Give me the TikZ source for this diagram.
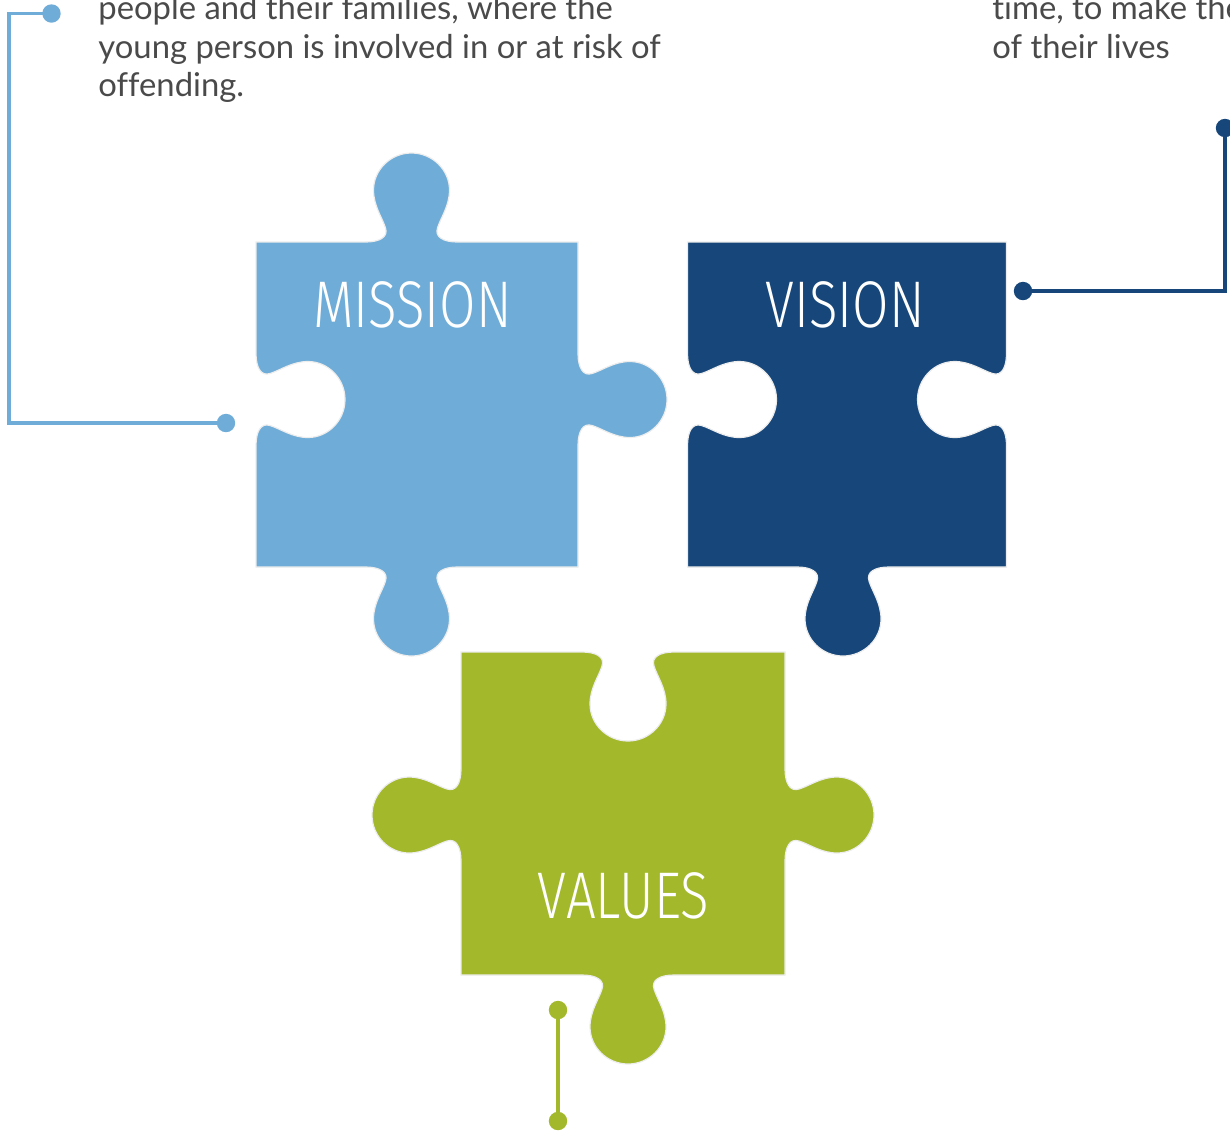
\documentclass[tikz,border=0pt]{standalone}
\usepackage{fontspec}
\usepackage{graphicx}
\setmainfont{Lato}[Ligatures={NoCommon}]
\newfontfamily\labfont{Fira Sans Light}
\definecolor{misblue}{HTML}{6FADD8}
\definecolor{visblue}{HTML}{17477A}
\definecolor{valgreen}{HTML}{A3B82B}
\definecolor{bodygray}{HTML}{4A4A4A}
\definecolor{edgegray}{HTML}{EDEDED}
% one tab (#3=1) or blank (#3=-1) on an edge whose middle is #1, turned by #2
\newcommand\tabshape[3]{%
 {[shift={#1},rotate=#2] -- (-46,0)
   .. controls (-32,0) and (-23,{-5*#3}) .. (-26,{-14*#3})
   .. controls (-29,{-24*#3}) and (-38,{-36*#3}) .. (-38,{-52*#3})
   .. controls (-38,{-72*#3}) and (-21,{-89*#3}) .. (0,{-89*#3})
   .. controls (21,{-89*#3}) and (38,{-72*#3}) .. (38,{-52*#3})
   .. controls (38,{-36*#3}) and (29,{-24*#3}) .. (26,{-14*#3})
   .. controls (23,{-5*#3}) and (32,0) .. (46,0)}}
\begin{document}
\begin{tikzpicture}[x=0.5pt,y=-0.5pt,
  piece/.style={draw=edgegray,line width=0.6pt},
  conn/.style={line width=1.7pt},
  bodytxt/.style={text=bodygray,font=\fontsize{16.4pt}{19.5pt}\selectfont,inner sep=0pt,anchor=base west},
  labtxt/.style={text=white,font=\labfont\fontsize{33pt}{36pt}\selectfont,inner sep=0pt,anchor=base}]
\useasboundingbox (0,0) rectangle (1230,1131);
% ---------- MISSION ----------
\def\pcx{417}\def\pcy{404.5}\def\phx{161}\def\phy{162.5}
\path[piece,fill=misblue] ({\pcx-\phx},{\pcy-\phy})
  \tabshape{({\pcx-5.5},{\pcy-\phy})}{0}{1} -- ({\pcx+\phx},{\pcy-\phy})
  \tabshape{({\pcx+\phx},{\pcy-5})}{-90}{1} -- ({\pcx+\phx},{\pcy+\phy})
  \tabshape{({\pcx-5.5},{\pcy+\phy})}{180}{1} -- ({\pcx-\phx},{\pcy+\phy})
  \tabshape{({\pcx-\phx},{\pcy-5})}{90}{-1} -- cycle;
% ---------- VISION ----------
\def\pcx{847}\def\pcy{404.5}\def\phx{159.5}\def\phy{162.5}
\path[piece,fill=visblue] ({\pcx-\phx},{\pcy-\phy})
  -- ({\pcx+\phx},{\pcy-\phy})
  \tabshape{({\pcx+\phx},{\pcy-5})}{-90}{-1} -- ({\pcx+\phx},{\pcy+\phy})
  \tabshape{({\pcx-4},{\pcy+\phy})}{180}{1} -- ({\pcx-\phx},{\pcy+\phy})
  \tabshape{({\pcx-\phx},{\pcy-5})}{90}{-1} -- cycle;
% ---------- VALUES ----------
\def\pcx{623}\def\pcy{813.5}\def\phx{162}\def\phy{161.5}
\path[piece,fill=valgreen] ({\pcx-\phx},{\pcy-\phy})
  \tabshape{({\pcx+5},{\pcy-\phy})}{0}{-1} -- ({\pcx+\phx},{\pcy-\phy})
  \tabshape{({\pcx+\phx},{\pcy+1.5})}{-90}{1} -- ({\pcx+\phx},{\pcy+\phy})
  \tabshape{({\pcx+5},{\pcy+\phy})}{180}{1} -- ({\pcx-\phx},{\pcy+\phy})
  \tabshape{({\pcx-\phx},{\pcy+1.5})}{90}{1} -- cycle;
% ---------- labels ----------
\node[labtxt] (mission) at (412.5,327) {\scalebox{0.8}[1]{MISSION}};
\node[labtxt] (vision) at (845,327) {\scalebox{0.8}[1]{VISION}};
\node[labtxt] (values) at (623.5,918) {\scalebox{0.8}[1]{VALUES}};
% ---------- texts ----------
\node[bodytxt] (mt1) at (98,19) {people and their families, where the};
\node[bodytxt] (mt2) at (98,58) {young person is involved in or at risk of};
\node[bodytxt] (mt3) at (98,96) {offending.};
\node[bodytxt] (vt1) at (992,19) {time, to make the};
\node[bodytxt] (vt2) at (992,58) {of their lives};
% ---------- connectors ----------
\coordinate (ma) at (226,423);
\coordinate (mb) at (9,423);
\coordinate (mc) at (51.5,13.5);
\draw[conn,misblue] (ma) -- (mb) |- (mc);
\fill[misblue] (ma) circle[radius=4.6pt] (mc) circle[radius=4.6pt];
\coordinate (va) at (1023,291);
\coordinate (vb) at (1225,291);
\coordinate (vc) at (1225,128);
\draw[conn,visblue] (va) -- (vb) -- (vc);
\fill[visblue] (va) circle[radius=4.6pt] (vc) circle[radius=4.6pt];
\coordinate (ga) at (558,1010);
\coordinate (gb) at (558,1121);
\draw[conn,valgreen] (ga) -- (gb);
\fill[valgreen] (ga) circle[radius=4.6pt] (gb) circle[radius=4.6pt];
\end{tikzpicture}
\end{document}
